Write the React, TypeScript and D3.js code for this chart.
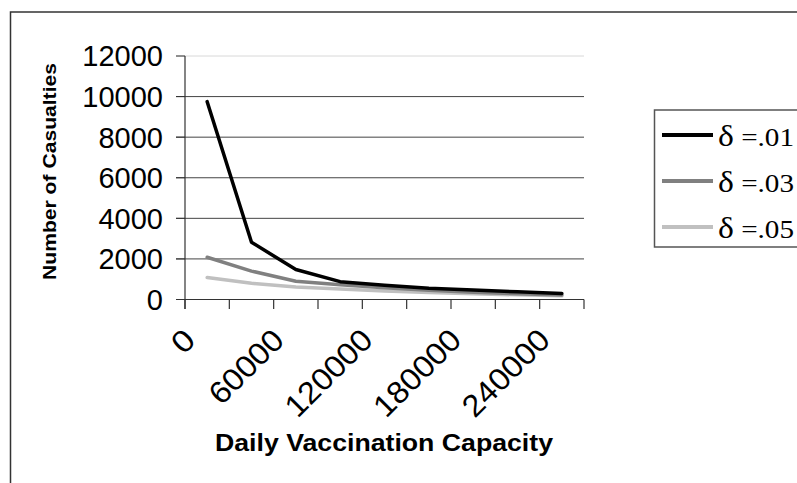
import React from "react";
import * as d3 from "d3";

const categories = ["0", "30000", "60000", "90000", "120000", "150000", "180000", "210000", "240000"];
const shownTickLabels = ["0", "60000", "120000", "180000", "240000"];
const yTicks = [0, 2000, 4000, 6000, 8000, 10000, 12000];
const seriesSymbols = ["δ", "δ", "δ"];
const seriesNames = [" =.01", " =.03", " =.05"];
const delta01 = [9750, 2820, 1480, 880, 700, 560, 470, 380, 300];
const delta03 = [2080, 1400, 900, 730, 580, 460, 360, 280, 220];
const delta05 = [1080, 800, 620, 520, 420, 340, 280, 230, 180];
const seriesColors = ["#000000", "#808080", "#c0c0c0"];

const W = 797;
const H = 483;

export default function App() {
  const x = d3.scaleBand<string>().domain(categories).range([185, 584]).padding(0);
  const y = d3.scaleLinear().domain([0, 12000]).range([299.5, 56]);
  const cx = (c: string) => (x(c) as number) + x.bandwidth() / 2;
  const series = [delta01, delta03, delta05];
  const line = d3
    .line<number>()
    .x((_, i) => cx(categories[i]))
    .y((d) => y(d));
  const tickXs = d3.range(categories.length + 1).map((i) => 185 + i * x.bandwidth());
  const sans = "'Liberation Sans', Arial, sans-serif";
  const serif = "'Liberation Serif', 'Times New Roman', serif";

  return (
    <svg
      width={W}
      height={H}
      style={{ position: "absolute", left: 0, top: 0, background: "#fff" }}
    >
      <rect x={0} y={0} width={W} height={H} fill="#fff" />
      {/* outer frame */}
      <rect x={10.5} y={12} width={W + 20} height={H + 20} fill="none" stroke="#333" strokeWidth={1.5} />

      {/* gridlines */}
      {yTicks.map((t) => (
        <line
          key={"g" + t}
          x1={176}
          x2={584}
          y1={y(t)}
          y2={y(t)}
          stroke={t === 12000 ? "#d8d8d8" : t === 0 ? "#333" : "#444"}
          strokeWidth={1}
        />
      ))}
      {yTicks.map((t) => (
        <line key={"yt" + t} x1={176} x2={185} y1={y(t)} y2={y(t)} stroke="#333" strokeWidth={1} />
      ))}
      {/* y axis */}
      <line x1={185} x2={185} y1={y(12000)} y2={309} stroke="#333" strokeWidth={1.2} />
      {/* x ticks */}
      {tickXs.map((tx, i) => (
        <line key={"xt" + i} x1={tx} x2={tx} y1={y(0)} y2={309} stroke="#333" strokeWidth={1.2} />
      ))}

      {/* y tick labels */}
      {yTicks.map((t) => (
        <text
          key={"yl" + t}
          x={163}
          y={y(t)}
          dy="0.36em"
          textAnchor="end"
          fontFamily={sans}
          fontSize={29}
          fill="#000"
        >
          {t}
        </text>
      ))}

      {/* x tick labels */}
      {categories.map((c) =>
        shownTickLabels.includes(c) ? (
          <text
            key={"xl" + c}
            transform={`translate(${cx(c) - 10},342) rotate(-45)`}
            textAnchor="end"
            fontFamily={sans}
            fontSize={31}
            textLength={c.length === 1 ? 19 : c.length === 5 ? 91 : 109}
            lengthAdjust="spacingAndGlyphs"
            fill="#000"
          >
            {c}
          </text>
        ) : null
      )}

      {/* axis titles */}
      <text
        x={384}
        y={451}
        textAnchor="middle"
        fontFamily={sans}
        fontWeight="bold"
        fontSize={23}
        textLength={338}
        lengthAdjust="spacingAndGlyphs"
      >
        Daily Vaccination Capacity
      </text>
      <text
        transform="translate(56,171.5) rotate(-90)"
        textAnchor="middle"
        fontFamily={sans}
        fontWeight="bold"
        fontSize={18.5}
        textLength={217}
        lengthAdjust="spacingAndGlyphs"
      >
        Number of Casualties
      </text>

      {/* series lines: draw light first so black on top */}
      {[2, 1, 0].map((si) => (
        <path
          key={"s" + si}
          d={line(series[si]) || ""}
          fill="none"
          stroke={seriesColors[si]}
          strokeWidth={3.5}
          strokeLinejoin="round"
          strokeLinecap="round"
        />
      ))}

      {/* legend */}
      <rect x={654.5} y={110} width={200} height={137} fill="#fff" stroke="#555" strokeWidth={1.5} />
      {seriesNames.map((n, i) => (
        <g key={"lg" + i}>
          <line x1={662} x2={713} y1={135 + i * 46} y2={135 + i * 46} stroke={seriesColors[i]} strokeWidth={4} />
          <text
            x={718}
            y={135 + i * 46 + 11}
            fontFamily={serif}
            fontSize={26}
            textLength={76}
            lengthAdjust="spacingAndGlyphs"
            fill="#000"
          >
            <tspan fontSize={30}>{seriesSymbols[i]}</tspan>
            {n}
          </text>
        </g>
      ))}
    </svg>
  );
}
